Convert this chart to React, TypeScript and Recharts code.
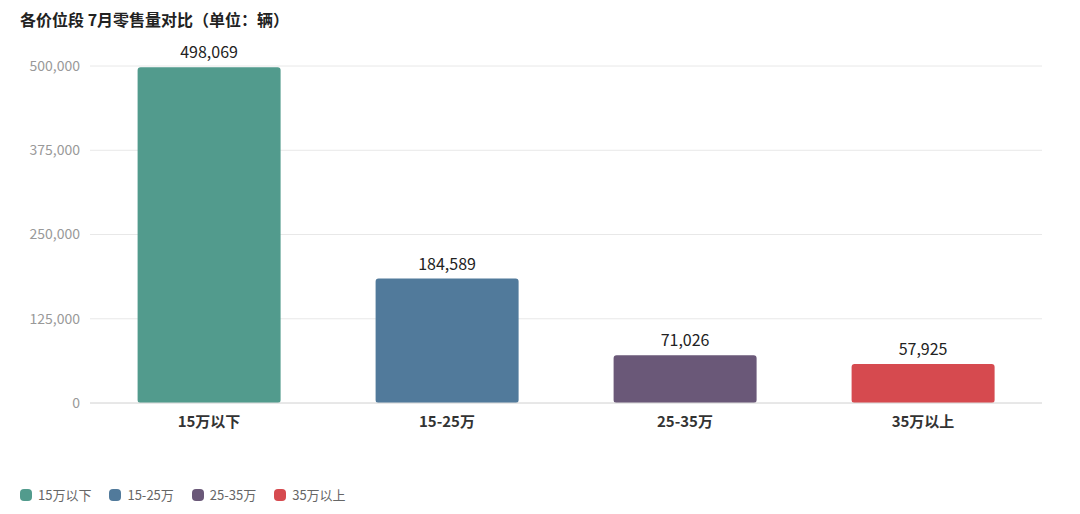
import React from "react";
import { BarChart, Bar, XAxis, YAxis, CartesianGrid, Cell, LabelList } from "recharts";

const categories = ["15万以下", "15-25万", "25-35万", "35万以上"];
const sales = [498069, 184589, 71026, 57925];
const COLORS = ["#529b8d", "#517a9b", "#6a5878", "#d64a4f"];
const yTicks = [0, 125000, 250000, 375000, 500000];

const data = categories.map((name, i) => ({ name, value: sales[i] }));

const FONT = '"Noto Sans CJK SC", "Noto Sans", sans-serif';
const fmt = (v: number) => v.toLocaleString("en-US");

const App: React.FC = () => {
  return (
    <div style={{ position: "absolute", left: 0, top: 0, width: 1080, height: 514, background: "#fff", fontFamily: FONT }}>
      {/* Title */}
      <div style={{ position: "absolute", left: 20, top: 7, fontSize: 16, fontWeight: 700, color: "#222" }}>
        各价位段 7月零售量对比（单位：辆）
      </div>

      <BarChart
        width={1080}
        height={514}
        data={data}
        margin={{ top: 66, right: 38, left: 0, bottom: 81 }}
        barCategoryGap="20%"
      >
        <CartesianGrid vertical={false} stroke="#e8e8e8" />
        <XAxis
          dataKey="name"
          axisLine={{ stroke: "#dcdcdc" }}
          tickLine={false}
          tick={{ fill: "#333", fontSize: 15, fontWeight: 700, fontFamily: FONT }}
          tickMargin={7}
        />
        <YAxis
          width={90}
          domain={[0, 500000]}
          ticks={yTicks}
          axisLine={false}
          tickLine={false}
          tickFormatter={fmt}
          tick={{ fill: "#999", fontSize: 14, fontFamily: FONT }}
          tickMargin={4}
        />
        <Bar dataKey="value" radius={[3, 3, 3, 3]} isAnimationActive={false}>
          {data.map((d, i) => (
            <Cell key={d.name} fill={COLORS[i % COLORS.length]} />
          ))}
          <LabelList
            dataKey="value"
            position="top"
            offset={9}
            formatter={(v: any) => fmt(Number(v))}
            style={{ fill: "#222", fontSize: 16, fontFamily: FONT }}
          />
        </Bar>
      </BarChart>

      {/* Legend */}
      <div style={{ position: "absolute", left: 20, top: 485, display: "flex", alignItems: "center", fontSize: 13, color: "#666" }}>
        {categories.map((c, i) => (
          <div key={c} style={{ display: "flex", alignItems: "center", marginRight: 18 }}>
            <span style={{ width: 12, height: 12, borderRadius: 4, background: COLORS[i], display: "inline-block", marginRight: 6 }} />
            <span>{c}</span>
          </div>
        ))}
      </div>
    </div>
  );
};

export default App;
